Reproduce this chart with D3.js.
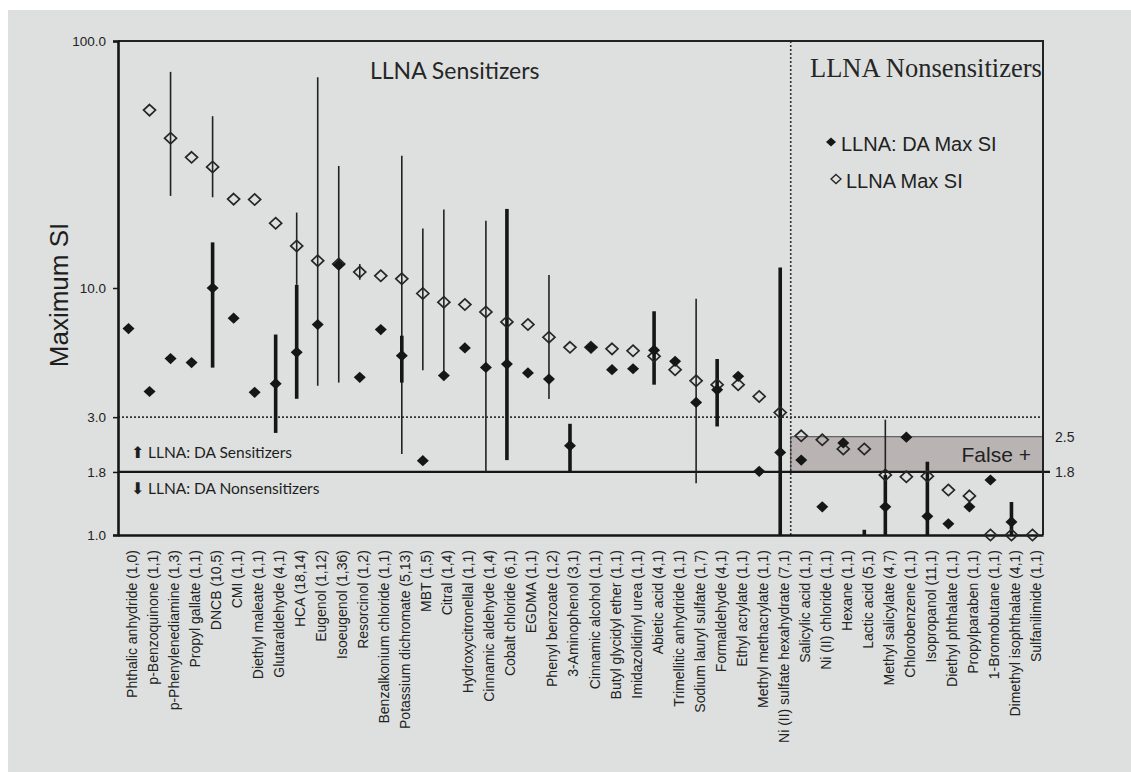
<!DOCTYPE html>
<html>
<head>
<meta charset="utf-8">
<script src="https://cdn.jsdelivr.net/npm/d3@7"></script>
<style>
  html, body { margin: 0; padding: 0; background: #ffffff; }
  svg { display: block; }
  .axis text { font-family: 'Liberation Sans', Arial, sans-serif; fill: #222; }
</style>
</head>
<body>
<svg id="chart"></svg>
<script>
const WIDTH = 1131;
const HEIGHT = 772;
const LEFT = 118;
const RIGHT = 1043;
const TOP = 41;
const BOTTOM = 535;
const INK = '#161616';

// Chemicals, with (LLNA: DA n, LLNA n)
const NAMES = [
  'Phthalic anhydride (1,0)', 'p-Benzoquinone (1,1)', 'p-Phenylenediamine (1,3)',
  'Propyl gallate (1,1)', 'DNCB (10,5)', 'CMI (1,1)', 'Diethyl maleate (1,1)',
  'Glutaraldehyde (4,1)', 'HCA (18,14)', 'Eugenol (1,12)', 'Isoeugenol (1,36)',
  'Resorcinol (1,2)', 'Benzalkonium chloride (1,1)', 'Potassium dichromate (5,13)',
  'MBT (1,5)', 'Citral (1,4)', 'Hydroxycitronellal (1,1)', 'Cinnamic aldehyde (1,4)',
  'Cobalt chloride (6,1)', 'EGDMA (1,1)', 'Phenyl benzoate (1,2)', '3-Aminophenol (3,1)',
  'Cinnamic alcohol (1,1)', 'Butyl glycidyl ether (1,1)', 'Imidazolidinyl urea (1,1)',
  'Abietic acid (4,1)', 'Trimellitic anhydride (1,1)', 'Sodium lauryl sulfate (1,7)',
  'Formaldehyde (4,1)', 'Ethyl acrylate (1,1)', 'Methyl methacrylate (1,1)',
  'Ni (II) sulfate hexahydrate (7,1)', 'Salicylic acid (1,1)', 'Ni (II) chloride (1,1)',
  'Hexane (1,1)', 'Lactic acid (5,1)', 'Methyl salicylate (4,7)', 'Chlorobenzene (1,1)',
  'Isopropanol (11,1)', 'Diethyl phthalate (1,1)', 'Propylparaben (1,1)',
  '1-Bromobutane (1,1)', 'Dimethyl isophthalate (4,1)', 'Sulfanilimide (1,1)'
];

// LLNA: DA max SI (filled) and its range
const DA_MAX = [
  6.85, 3.81, 5.18, 4.99, 10.0, 7.55, 3.78, 4.1, 5.49, 7.11, 12.4,
  4.35, 6.79, 5.32, 2.0, 4.42, 5.72, 4.77, 4.92, 4.53, 4.28, 2.3,
  5.75, 4.67, 4.71, 5.6, 5.05, 3.44, 3.87, 4.39, 1.81, 2.16,
  2.01, 1.3, 2.36, 0.9, 1.3, 2.49, 1.19, 1.11, 1.3, 1.67, 1.13, 0.9
];
const DA_LOW = [
  null, null, null, null, 4.76, null, null, 2.59, 3.56, null, null,
  null, null, 4.14, null, null, null, null, 2.01, null, null, 1.8,
  null, null, null, 4.06, null, null, 2.75, null, null, 0.5,
  null, null, null, 0.5, 0.5, null, 0.5, null, null, null, 0.5, null
];
const DA_HIGH = [
  null, null, null, null, 15.3, null, null, 6.48, 10.3, null, null,
  null, null, 6.41, null, null, null, null, 20.9, null, null, 2.82,
  null, null, null, 8.05, null, null, 5.16, null, null, 12.1,
  null, null, null, 1.05, 1.75, null, 1.98, null, null, null, 1.36, null
];

// LLNA max SI (open) and its range
const LLNA_MAX = [
  null, 52.5, 40.4, 33.8, 30.9, 22.9, 22.8, 18.3, 14.8, 12.9, 12.5,
  11.6, 11.2, 10.9, 9.5, 8.76, 8.57, 8.0, 7.29, 7.11, 6.32, 5.75,
  5.75, 5.67, 5.57, 5.29, 4.67, 4.21, 4.06, 4.06, 3.64, 3.13,
  2.52, 2.43, 2.23, 2.23, 1.75, 1.72, 1.73, 1.52, 1.44, 1.0, 1.0, 1.0
];
const LLNA_LOW = [
  null, null, 23.6, null, 23.3, null, null, null, 10.3, 4.02, 4.14,
  10.8, null, 2.13, 4.64, 4.35, null, 1.79, null, null, 3.55, null,
  null, null, null, null, null, 1.62, null, null, null, null,
  null, null, null, null, 0.5, null, null, null, null, null, null, null
];
const LLNA_HIGH = [
  null, null, 75, null, 49.6, null, null, null, 20.2, 71.3, 31.2,
  12.5, null, 34.3, 17.4, 20.8, null, 18.7, null, null, 11.3, null,
  null, null, null, null, null, 9.04, null, null, null, null,
  null, null, null, null, 2.93, null, null, null, null, null, null, null
];

const Y_TICKS = [1.0, 1.8, 3.0, 10.0, 100.0];
const RIGHT_TICKS = [1.8, 2.5];
const SENS_LINE = 3.0;
const CUTOFF = 1.8;
const FALSE_POS_TOP = 2.5;
const FIRST_NONSENS = 32;

const svg = d3.select('#chart')
  .attr('width', WIDTH)
  .attr('height', HEIGHT);

// Photo background
svg.append('rect')
  .attr('x', 8).attr('y', 10)
  .attr('width', WIDTH - 8).attr('height', HEIGHT - 10)
  .attr('fill', '#dde0df');

const x = d3.scalePoint()
  .domain(d3.range(NAMES.length))
  .range([LEFT, RIGHT])
  .padding(0.5);

const y = d3.scaleLog()
  .domain([1, 100])
  .range([BOTTOM, TOP]);

const step = x.step();
const divX = x(FIRST_NONSENS) - step / 2;

const clipY = v => Math.max(TOP, Math.min(BOTTOM, y(Math.max(v, 0.01))));

// False positive band
svg.append('rect')
  .attr('x', divX)
  .attr('y', y(FALSE_POS_TOP))
  .attr('width', RIGHT - divX)
  .attr('height', y(CUTOFF) - y(FALSE_POS_TOP))
  .attr('fill', '#b9b4b3')
  .attr('stroke', '#4a4a4a')
  .attr('stroke-width', 1);

svg.append('text')
  .attr('x', RIGHT - 12)
  .attr('y', y(CUTOFF) - 10)
  .attr('text-anchor', 'end')
  .attr('font-family', 'Liberation Sans, Arial, sans-serif')
  .attr('font-size', 21)
  .attr('fill', '#222')
  .text('False +');

// Threshold lines
svg.append('line')
  .attr('x1', LEFT).attr('x2', RIGHT)
  .attr('y1', y(SENS_LINE)).attr('y2', y(SENS_LINE))
  .attr('stroke', '#333').attr('stroke-width', 1.6)
  .attr('stroke-dasharray', '2,2');

svg.append('line')
  .attr('x1', divX).attr('x2', divX)
  .attr('y1', TOP).attr('y2', BOTTOM)
  .attr('stroke', '#333').attr('stroke-width', 1.6)
  .attr('stroke-dasharray', '2,2');

svg.append('line')
  .attr('x1', LEFT).attr('x2', RIGHT + 7)
  .attr('y1', y(CUTOFF)).attr('y2', y(CUTOFF))
  .attr('stroke', INK).attr('stroke-width', 2.2);

// Right side labels
svg.selectAll('.rlabel')
  .data(RIGHT_TICKS)
  .enter()
  .append('text')
  .attr('class', 'rlabel')
  .attr('x', RIGHT + 12)
  .attr('y', d => y(d) + 5)
  .attr('font-family', 'Liberation Sans, Arial, sans-serif')
  .attr('font-size', 14)
  .attr('fill', '#262626')
  .text(d => d.toFixed(1));

// Plot frame
svg.append('path')
  .attr('d', `M${LEFT},${TOP}H${RIGHT}V${BOTTOM}`)
  .attr('fill', 'none')
  .attr('stroke', '#222')
  .attr('stroke-width', 2);

// Y axis
const yAxis = svg.append('g')
  .attr('class', 'axis')
  .attr('transform', `translate(${LEFT},0)`)
  .call(d3.axisLeft(y).tickValues(Y_TICKS).tickFormat(d3.format('.1f')).tickSize(5).tickPadding(7));
yAxis.select('.domain').attr('stroke', INK).attr('stroke-width', 2.6);
yAxis.selectAll('.tick line').attr('stroke', INK).attr('stroke-width', 1.5);
yAxis.selectAll('.tick text').attr('font-size', 13.5);

// X axis
const xAxis = svg.append('g')
  .attr('class', 'axis')
  .attr('transform', `translate(0,${BOTTOM})`)
  .call(d3.axisBottom(x).tickSize(0).tickFormat(i => NAMES[i]));
xAxis.select('.domain').attr('stroke', INK).attr('stroke-width', 2.6);
xAxis.selectAll('.tick text')
  .attr('transform', 'rotate(-90)')
  .attr('x', -15)
  .attr('y', 8)
  .attr('dy', 0)
  .attr('text-anchor', 'end')
  .attr('font-size', 14);

// Range bars
const idx = d3.range(NAMES.length);

svg.append('g')
  .selectAll('line')
  .data(idx.filter(i => LLNA_LOW[i] != null))
  .enter()
  .append('line')
  .attr('x1', i => x(i)).attr('x2', i => x(i))
  .attr('y1', i => clipY(LLNA_LOW[i]))
  .attr('y2', i => clipY(LLNA_HIGH[i]))
  .attr('stroke', '#222')
  .attr('stroke-width', 1.6);

svg.append('g')
  .selectAll('line')
  .data(idx.filter(i => DA_LOW[i] != null))
  .enter()
  .append('line')
  .attr('x1', i => x(i)).attr('x2', i => x(i))
  .attr('y1', i => clipY(DA_LOW[i]))
  .attr('y2', i => clipY(DA_HIGH[i]))
  .attr('stroke', INK)
  .attr('stroke-width', 3.6);

// Markers
const diamond = (w, h) => `M0,${-h}L${w},0L0,${h}L${-w},0Z`;

svg.append('g')
  .selectAll('path')
  .data(idx.filter(i => LLNA_MAX[i] != null && LLNA_MAX[i] >= 1))
  .enter()
  .append('path')
  .attr('transform', i => `translate(${x(i)},${y(LLNA_MAX[i])})`)
  .attr('d', diamond(6, 5.6))
  .attr('fill', 'none')
  .attr('stroke', '#262626')
  .attr('stroke-width', 1.7);

svg.append('g')
  .selectAll('path')
  .data(idx.filter(i => DA_MAX[i] != null && DA_MAX[i] >= 1))
  .enter()
  .append('path')
  .attr('transform', i => `translate(${x(i)},${y(DA_MAX[i])})`)
  .attr('d', diamond(6, 5.6))
  .attr('fill', INK);

// Region titles
svg.append('text')
  .attr('x', 370).attr('y', 79)
  .attr('font-family', 'Lato, "Open Sans", sans-serif')
  .attr('font-size', 23)
  .attr('fill', '#262626')
  .text('LLNA Sensitizers');

svg.append('text')
  .attr('x', 810).attr('y', 77)
  .attr('font-family', '"Liberation Serif", "DejaVu Serif", serif')
  .attr('font-size', 26.5)
  .attr('fill', '#262626')
  .text('LLNA Nonsensitizers');

// Legend
const legend = svg.append('g')
  .attr('font-family', 'Liberation Sans, Arial, sans-serif')
  .attr('font-size', 20)
  .attr('fill', '#222');

legend.append('path')
  .attr('transform', 'translate(831,142)')
  .attr('d', diamond(5, 4.6))
  .attr('fill', INK);
legend.append('text')
  .attr('x', 841).attr('y', 151)
  .text('LLNA: DA Max SI');

legend.append('path')
  .attr('transform', 'translate(836,179)')
  .attr('d', diamond(5, 4.6))
  .attr('fill', 'none')
  .attr('stroke', '#222')
  .attr('stroke-width', 1.3);
legend.append('text')
  .attr('x', 846).attr('y', 188)
  .text('LLNA Max SI');

// Sensitizer / nonsensitizer notes
const notes = svg.append('g')
  .attr('font-family', 'Lato, "Open Sans", sans-serif')
  .attr('font-size', 15.5)
  .attr('fill', '#1e1e1e');

notes.append('text')
  .attr('x', 131).attr('y', 458)
  .text('\u2B06 LLNA: DA Sensitizers');
notes.append('text')
  .attr('x', 131).attr('y', 494)
  .text('\u2B07 LLNA: DA Nonsensitizers');

// Y axis title
svg.append('text')
  .attr('transform', 'translate(68,295) rotate(-90)')
  .attr('text-anchor', 'middle')
  .attr('font-family', 'Liberation Sans, Arial, sans-serif')
  .attr('font-size', 26)
  .attr('fill', '#1e1e1e')
  .text('Maximum SI');
</script>
</body>
</html>
